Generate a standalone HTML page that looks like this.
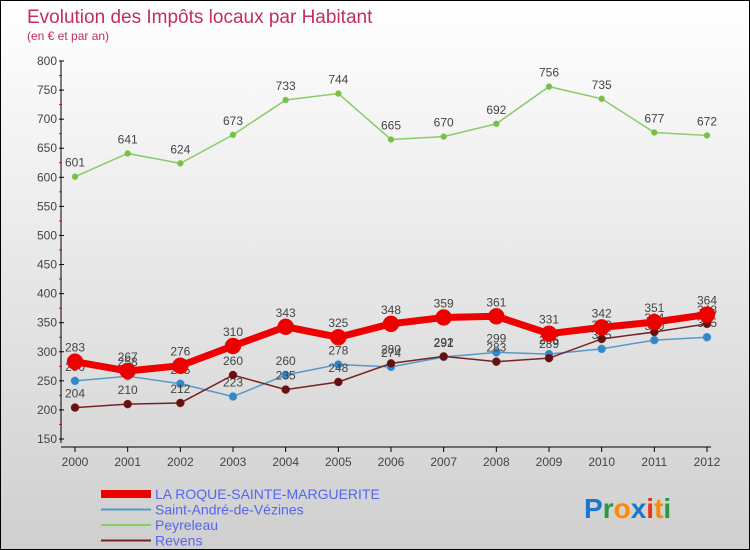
<!DOCTYPE html>
<html><head><meta charset="utf-8"><style>
body{margin:0}
#wrap{width:748px;height:548px;border:1px solid #000;background:linear-gradient(#fff,#cfcfcf);position:relative;overflow:hidden;font-family:"Liberation Sans",sans-serif}
</style></head><body>
<div id="wrap">
<svg id="svg" width="748" height="548"></svg>
</div>
<script>
const years=[2000,2001,2002,2003,2004,2005,2006,2007,2008,2009,2010,2011,2012];
const laRoque=[283,267,276,310,343,325,348,359,361,331,342,351,364];
const stAndre=[250,258,245,223,260,278,274,291,299,296,305,320,325];
const peyreleau=[601,641,624,673,733,744,665,670,692,756,735,677,672];
const revens=[204,210,212,260,235,248,280,292,283,289,322,334,348];
const yTicks=[150,200,250,300,350,400,450,500,550,600,650,700,750,800];
const NS="http://www.w3.org/2000/svg";
const svg=document.getElementById('svg');
function X(i){return 74+i*(632/12);}
function Y(v){return 438-(v-150)*(378/650);}
function el(t,a,p){const e=document.createElementNS(NS,t);for(const k in a)e.setAttribute(k,a[k]);(p||svg).appendChild(e);return e;}
function txt(x,y,s,a){const e=el('text',Object.assign({x:x,y:y},a));e.textContent=s;return e;}
let t=txt(26,22,'Evolution des Impôts locaux par Habitant',{fill:'#c0305a','font-size':19});

t=txt(26,39,'(en € et par an)',{fill:'#c0305a','font-size':12});

// axes
let a=el('line',{x1:60,y1:Y(800),x2:60,y2:Y(150)+4,stroke:'#000'});

a=el('line',{x1:60,y1:446,x2:710,y2:446,stroke:'#000'});

yTicks.forEach((v,i)=>{
 el('line',{x1:58,y1:Y(v),x2:63,y2:Y(v),stroke:'#000'});
 if(i<yTicks.length-1)el('line',{x1:58,y1:Y(v+25),x2:61,y2:Y(v+25),stroke:'#e00'});
 const l=txt(56,Y(v)+4,v,{'text-anchor':'end','font-size':12,fill:'#444'});
 
});
years.forEach((yr,i)=>{
 el('line',{x1:X(i),y1:446,x2:X(i),y2:451,stroke:'#000'});
 const l=txt(X(i),465,yr,{'text-anchor':'middle','font-size':12,fill:'#444'});
 
});
function series(data,color,w,r,name,dot){
 const g=el('g',{});
 
 el('polyline',{points:data.map((v,i)=>X(i)+','+Y(v)).join(' '),fill:'none',stroke:color,'stroke-width':w},g);
 data.forEach((v,i)=>{
  const c=el('circle',{cx:X(i),cy:Y(v),r:r,fill:dot,stroke:color,'stroke-width':0.5},g);
  
  const l=txt(X(i),Y(v)-10,v,{'text-anchor':'middle','font-size':12,fill:'#444'},g);
  
 });
}
series(peyreleau,'#88cc66',1.5,3,'peyreleau-series','#77c044');
series(stAndre,'#5599cc',1.5,4,'saint-andre-series','#3388cc');
series(revens,'#772222',1.5,4,'revens-series','#661111');
series(laRoque,'#ee0000',7,8,'la-roque-series','#ee0000');
// legend
const leg=[['LA ROQUE-SAINTE-MARGUERITE','#ee0000',8],['Saint-André-de-Vézines','#5599cc',2],['Peyreleau','#88cc66',2],['Revens','#772222',2]];
leg.forEach((d,i)=>{
 const g=el('g',{});
 const y=493+i*15.5;
 el('line',{x1:100,y1:y,x2:150,y2:y,stroke:d[1],'stroke-width':d[2]},g);
 txt(154,y+5,d[0],{'font-size':14,fill:'#5566ee'},g);
});
const p=txt(583,517,'',{'font-size':28,'font-weight':'bold'});

[['P','#1a77cc'],['r','#2a9944'],['o','#ff8800'],['x','#1a77cc'],['i','#ee3311'],['t','#ff8800'],['i','#2a9944']].forEach(c=>{
 const s=el('tspan',{fill:c[1]},p);s.textContent=c[0];});
</script>
</body></html>
